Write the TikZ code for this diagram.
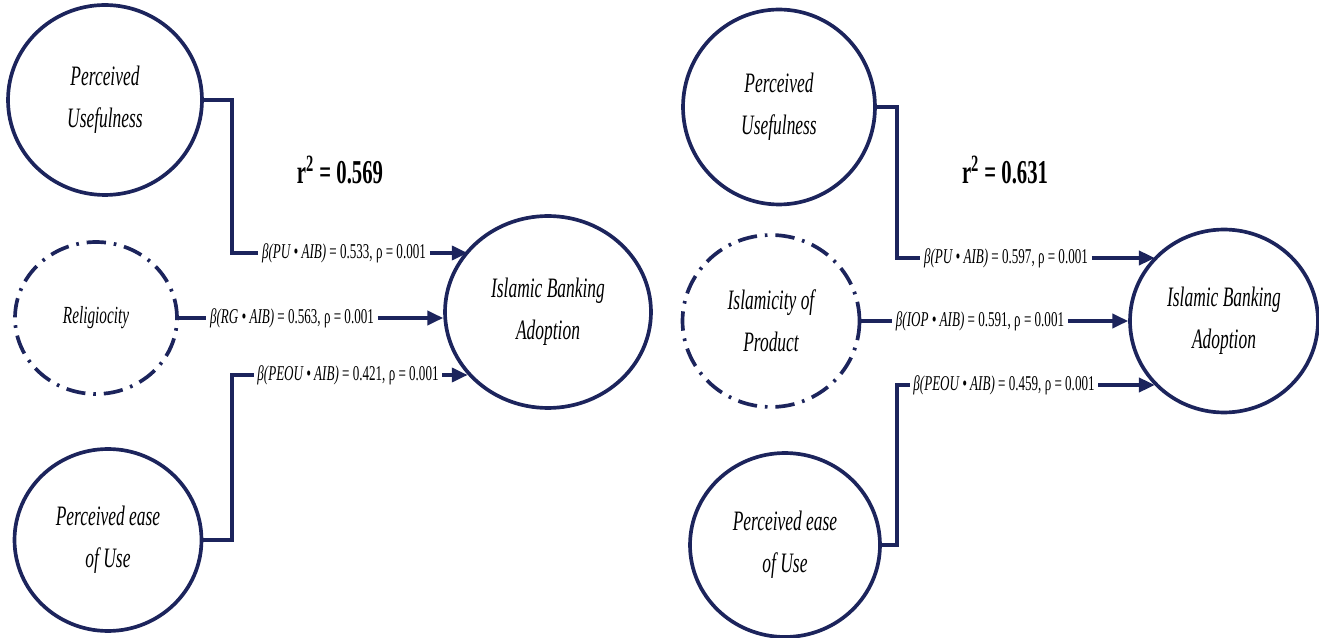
\documentclass[tikz,border=0pt]{standalone}
\usepackage{fontspec}
\setmainfont{Liberation Serif}
\newfontfamily\narrowfont[FakeStretch=0.62]{Liberation Serif}
\usepackage{tikz}
\usetikzlibrary{positioning,arrows.meta,shapes.geometric}
\definecolor{navy}{RGB}{28,36,92}

\begin{document}
\begin{tikzpicture}[x=0.02cm, y=-0.02cm,
  construct/.style={ellipse, draw=navy, line width=2.1pt, align=center, inner sep=0pt,
                    font=\narrowfont\itshape\fontsize{16}{24}\selectfont},
  moder/.style={construct, dash pattern=on 11pt off 4.5pt on 1.5pt off 4.5pt},
  coef/.style={font=\narrowfont\fontsize{12}{14}\selectfont, inner sep=2pt},
  link/.style={draw=navy, line width=2pt},
  arr/.style={link, -{Triangle[length=9pt,width=8pt]}},
  rsq/.style={font=\narrowfont\bfseries\fontsize{19}{22}\selectfont},
]
\useasboundingbox (0,0) rectangle (1319,638);
% left model
\node[construct, minimum width=3.88cm, minimum height=3.8cm]  (pu1)  at (105,100) {Perceived\\Usefulness};
\node[moder, minimum width=3.24cm, minimum height=3.04cm, font=\narrowfont\itshape\fontsize{14}{20}\selectfont] (rg1) at (96,318) {Religiocity};
\node[construct, minimum width=3.74cm, minimum height=3.64cm] (pe1)  at (108,540) {Perceived ease\\of Use};
\node[construct, minimum width=4.12cm, minimum height=3.84cm] (iba1) at (548,312) {Islamic Banking\\Adoption};
\node[rsq] (r1) at (340,170) {r\textsuperscript{2} = 0.569};
\node[coef] (b1) at (344,253) {\textit{β(PU • AIB)} = 0.533, ρ = 0.001};
\node[coef] (b2) at (292,318) {\textit{β(RG • AIB)} = 0.563, ρ = 0.001};
\node[coef] (b3) at (348,375) {\textit{β(PEOU • AIB)} = 0.421, ρ = 0.001};
\coordinate (kpu1) at (232,253);
\coordinate (kpe1) at (232,375);
\draw[link] (pu1.east) -| (kpu1) -- (b1.west);
\draw[link] (rg1.east) -- (b2.west);
\draw[link] (pe1.east) -| (kpe1) -- (b3.west);
\draw[arr] (b1.east) -- (b1.east -| iba1.142);
\draw[arr] (b2.east) -- (b2.east -| iba1.west);
\draw[arr] (b3.east) -- (b3.east -| iba1.218);
% right model
\node[construct, minimum width=3.84cm, minimum height=3.9cm]  (pu2)  at (779,107)  {Perceived\\Usefulness};
\node[moder, minimum width=3.54cm, minimum height=3.44cm]     (iop2) at (771,321)  {Islamicity of\\Product};
\node[construct, minimum width=3.8cm, minimum height=3.68cm]  (pe2)  at (785,545)  {Perceived ease\\of Use};
\node[construct, minimum width=3.76cm, minimum height=3.66cm] (iba2) at (1224,321) {Islamic Banking\\Adoption};
\node[rsq] (r2) at (1005,170) {r\textsuperscript{2} = 0.631};
\node[coef] (c1) at (1006,258) {\textit{β(PU • AIB)} = 0.597, ρ = 0.001};
\node[coef] (c2) at (980,321)  {\textit{β(IOP • AIB)} = 0.591, ρ = 0.001};
\node[coef] (c3) at (1004,385) {\textit{β(PEOU • AIB)} = 0.459, ρ = 0.001};
\coordinate (kpu2) at (897,258);
\coordinate (kpe2) at (897,385);
\draw[link] (pu2.east) -| (kpu2) -- (c1.west);
\draw[link] (iop2.east) -- (c2.west);
\draw[link] (pe2.east) -| (kpe2) -- (c3.west);
\draw[arr] (c1.east) -- (c1.east -| iba2.137);
\draw[arr] (c2.east) -- (c2.east -| iba2.west);
\draw[arr] (c3.east) -- (c3.east -| iba2.223);
\end{tikzpicture}
\end{document}
